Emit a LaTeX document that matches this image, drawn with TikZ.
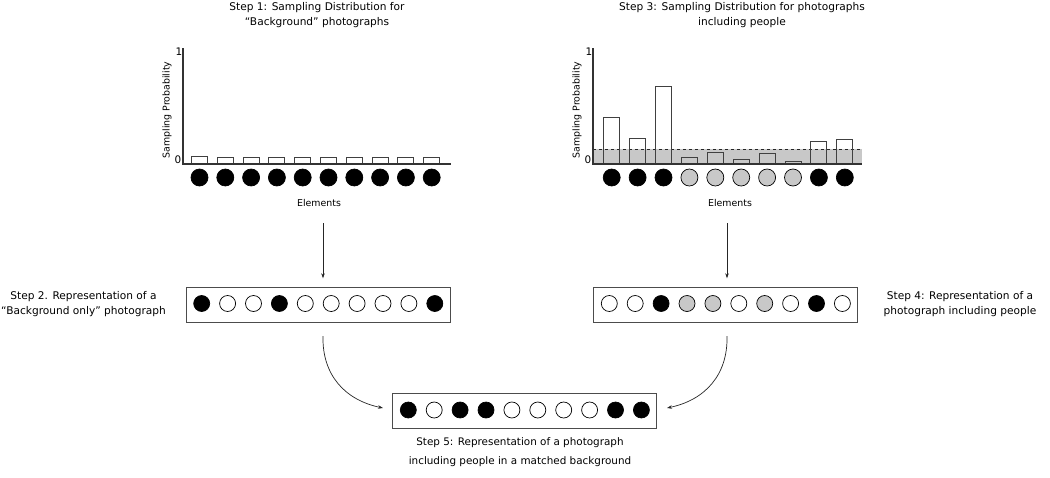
\documentclass[tikz,border=0pt]{standalone}
\usepackage{fontspec}
\setmainfont{DejaVu Sans}
\usetikzlibrary{arrows.meta}
\definecolor{grayfill}{RGB}{200,200,200}
\begin{document}
\begin{tikzpicture}[x=1pt,y=-1pt,
  title/.style={font=\fontsize{10.6}{14.5}\selectfont, align=center, inner sep=0pt},
  axlab/.style={font=\fontsize{9.4}{11}\selectfont, inner sep=0pt},
  numlab/.style={font=\fontsize{10.4}{12}\selectfont, inner sep=0pt},
  dot/.style={circle, draw=black, line width=0.7pt, minimum size=16pt, inner sep=0pt},
  bk/.style={dot, fill=black},
  wh/.style={dot, fill=white},
  gr/.style={dot, fill=grayfill},
  frame/.style={draw=black!70, line width=1pt, fill=white, minimum width=264pt, minimum height=35pt, inner sep=0pt},
  axis/.style={draw=black!80, line width=1.1pt},
  bar/.style={draw=black!75, line width=0.9pt},
  arr/.style={draw=black!85, line width=0.7pt, -{Stealth[length=5pt,width=3.5pt]}}
]
\useasboundingbox (0,0) rectangle (1050,477);

% ---------- Step 1 chart ----------
\node[title] (t1) at (317,15) {Step 1: Sampling Distribution for\\``Background'' photographs};
\foreach \i/\h in {1/7.3,2/6.7,3/6.3,4/6.3,5/7,6/7,7/7,8/7,9/7,10/6.3}{
  \pgfmathsetmacro{\cx}{199.5+25.8*(\i-1)}
  \draw[bar] (\cx-8,164) rectangle (\cx+8,164-\h);
  \node[bk, minimum size=17pt] (p\i) at (\cx,177.5) {};
}
\draw[axis] (183,48) -- (183,164) -- (451,164);
\node[numlab] (one1) at (179,52) {1};
\node[numlab] (zero1) at (178,160) {0};
\node[axlab, rotate=90] (yl1) at (167,110) {Sampling Probability};
\node[axlab] (el1) at (319,203) {Elements};

% ---------- Step 3 chart ----------
\node[title] (t3) at (742,15) {Step 3: Sampling Distribution for photographs\\including people};
\fill[grayfill] (593,149) rectangle (862,164);
\draw[black!85, line width=0.8pt, dashed] (593,149) -- (862,149);
\foreach \i/\t/\s in {1/117.7/bk,2/138.3/bk,3/86/bk,4/157.3/gr,5/152/gr,6/159/gr,7/153.7/gr,8/161.3/gr,9/141.7/bk,10/139/bk}{
  \pgfmathsetmacro{\cx}{611.7+25.9*(\i-1)}
  \draw[bar] (\cx-8,164) rectangle (\cx+8,\t);
  \node[\s, minimum size=17pt] (q\i) at (\cx,177.5) {};
}
\draw[axis] (593,48) -- (593,164) -- (862,164);
\node[numlab] (one3) at (589,52) {1};
\node[numlab] (zero3) at (588,160) {0};
\node[axlab, rotate=90] (yl3) at (577,110) {Sampling Probability};
\node[axlab] (el3) at (730,203) {Elements};

% ---------- Step 2 ----------
\node[frame] (box2) at (318,304.8) {};
\foreach \i/\s in {1/bk,2/wh,3/wh,4/bk,5/wh,6/wh,7/wh,8/wh,9/wh,10/bk}{
  \pgfmathsetmacro{\cx}{201.7+25.9*(\i-1)}
  \node[\s] (b\i) at (\cx,303.5) {};
}
\node[title] (t2) at (83.5,304) {Step 2. Representation of a\\``Background only'' photograph};

% ---------- Step 4 ----------
\node[frame] (box4) at (725.7,304.8) {};
\foreach \i/\s in {1/wh,2/wh,3/bk,4/gr,5/gr,6/wh,7/gr,8/wh,9/bk,10/wh}{
  \pgfmathsetmacro{\cx}{609.3+25.9*(\i-1)}
  \node[\s] (d\i) at (\cx,303.5) {};
}
\node[title] (t4) at (960,304) {Step 4: Representation of a\\photograph including people};

% ---------- Step 5 ----------
\node[frame] (box5) at (524.5,410.5) {};
\foreach \i/\s in {1/bk,2/wh,3/bk,4/bk,5/wh,6/wh,7/wh,8/wh,9/bk,10/bk}{
  \pgfmathsetmacro{\cx}{408.3+25.9*(\i-1)}
  \node[\s] (e\i) at (\cx,410) {};
}
\node[title, font=\fontsize{10.4}{19}\selectfont] (t5) at (520,452.5) {Step 5: Representation of a photograph\\including people in a matched background};

% ---------- arrows ----------
\coordinate (a1s) at (323,223);
\coordinate (a3s) at (727,223);
\draw[arr, shorten >=8.5pt] (a1s) -- (a1s |- box2.north);
\draw[arr, shorten >=8.5pt] (a3s) -- (a3s |- box4.north);
\coordinate (c1s) at (323,336);
\coordinate (c1e) at (383,408);
\coordinate (c2s) at (727,336);
\coordinate (c2e) at (667,408);
\draw[arr] (c1s) .. controls (322,375) and (345,400) .. (c1e);
\draw[arr] (c2s) .. controls (728,375) and (705,400) .. (c2e);
\end{tikzpicture}
\end{document}
